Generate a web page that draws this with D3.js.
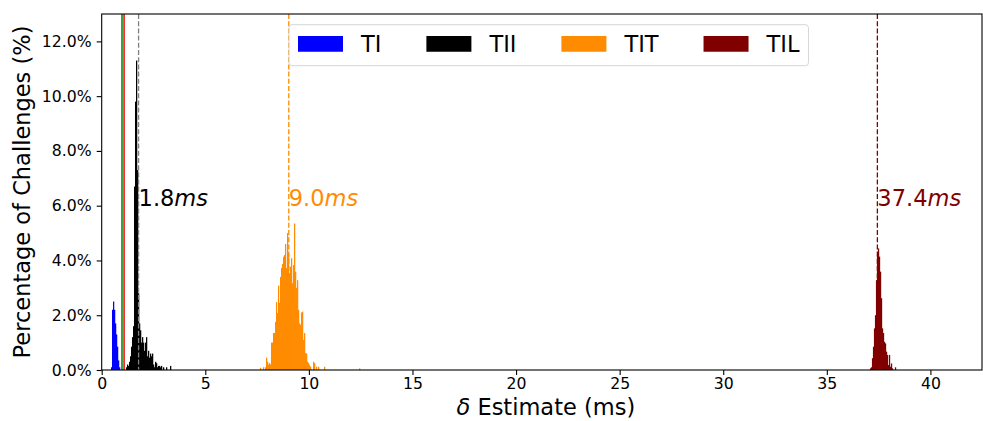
<!DOCTYPE html>
<html>
<head>
<meta charset="utf-8">
<script src="https://cdn.jsdelivr.net/npm/d3@7"></script>
<style>
  body { margin: 0; background: #fff; }
  svg { display: block; font-family: "DejaVu Sans", sans-serif; }
</style>
</head>
<body>
<svg id="chart" width="983" height="421"></svg>
<script>
// histogram bins (ms), values are % of challenges in each bin
const binWidth = 0.0483;
const seriesNames = ["TI", "TII", "TIT", "TIL"];
const seriesColors = ["#0000ff", "#000000", "#ff8c00", "#800000"];
const binStarts = [0.449, 1.173, 7.64, 37.08];

const tiValues = [0.1, 2.2, 2.5, 2.2, 1.7, 1.3, 0.85, 0.35, 0.1];

const tiiValues = [
  0.1, 0.2, 0.15, 0.3, 0.5, 0.85, 1.2, 1.6, 6.7, 9.8,
  11.3, 7.3, 2.8, 1.7, 1.45, 1.0, 1.2, 1.0, 0.7, 1.0,
  1.2, 0.5, 0.7, 0.45, 0.6, 0.5, 0.6, 0.2, 0.1, 0.3,
  0.25, 0.1, 0.15, 0.15, 0.1, 0.15, 0, 0.1, 0, 0,
  0.1, 0, 0, 0, 0.15
];

const titValues = [
  0.08, 0, 0, 0.1, 0, 0.1, 0.45, 0.3, 0.2, 0.25,
  0.2, 1.0, 1.0, 1.35, 1.35, 1.76, 2.48, 2.08, 3.08, 2.45,
  3.4, 3.73, 3.87, 4.14, 4.2, 4.6, 3.72, 5.0, 4.26, 3.53,
  3.77, 4.08, 3.17, 3.83, 5.35, 3.59, 3.0, 3.28, 2.2, 1.7,
  1.65, 2.1, 2.13, 1.1, 1.35, 0.62, 0.6, 0.3, 0.25, 0.18,
  0.12, 0, 0, 0.3, 0.25, 0, 0.12, 0, 0.12, 0,
  0, 0, 0, 0, 0.12, 0, 0, 0, 0, 0,
  0, 0, 0, 0, 0, 0, 0, 0, 0, 0,
  0, 0, 0, 0, 0, 0, 0, 0, 0, 0,
  0, 0, 0, 0, 0, 0, 0, 0, 0, 0.06
];

const tilValues = [
  0.06, 0.1, 0.43, 0.85, 1.52, 2.0, 3.28, 4.2, 4.44, 4.14,
  3.59, 2.62, 1.52, 1.35, 1.03, 0.97, 0.67, 0.55, 0.18, 0.55,
  0.12, 0.24, 0.06, 0, 0, 0.1
];

// mean estimate per series (dashed lines + labels)
const markerValues = [1.78, 9.03, 37.44];
const markerLineColors = ["#808080", "#ff8c00", "#800000"];
const markerTextColors = ["#000000", "#ff8c00", "#800000"];
const markerLabelLevel = 6.0;

// solid reference lines
const refValues = [0.98, 1.08];
const refColors = ["#008000", "#ff0000"];

const xTicks = [0, 5, 10, 15, 20, 25, 30, 35, 40];
const yTicks = [0, 2, 4, 6, 8, 10, 12];
const xMax = 42.49;
const yMax = 13;

const allValues = [tiValues, tiiValues, titValues, tilValues];

const bigFont = 22.5;
const tickFont = 15.7;

const margin = { top: 14, right: 1, bottom: 51, left: 101.7 };
const width = 983 - margin.left - margin.right;
const height = 421 - margin.top - margin.bottom;

const svg = d3.select("#chart");
const g = svg.append("g").attr("transform", `translate(${margin.left},${margin.top})`);

const x = d3.scaleLinear().domain([0, xMax]).range([0, width]);
const y = d3.scaleLinear().domain([0, yMax]).range([height, 0]);

// histograms
allValues.forEach((vals, s) => {
  const bins = vals.map((v, i) => ({ x0: binStarts[s] + i * binWidth, v }))
    .filter(d => d.v > 0);
  g.append("g")
    .selectAll("rect")
    .data(bins)
    .enter().append("rect")
    .attr("x", d => x(d.x0))
    .attr("y", d => y(d.v))
    .attr("width", x(binWidth) - x(0) + 0.25)
    .attr("height", d => y(0) - y(d.v))
    .attr("fill", seriesColors[s]);
});

// reference lines
refValues.forEach((v, i) => {
  g.append("line")
    .attr("x1", x(v)).attr("x2", x(v))
    .attr("y1", 0).attr("y2", height)
    .attr("stroke", refColors[i])
    .attr("stroke-width", 1.5);
});

// estimate lines and labels
markerValues.forEach((v, i) => {
  g.append("line")
    .attr("x1", x(v)).attr("x2", x(v))
    .attr("y1", 0).attr("y2", height)
    .attr("stroke", markerLineColors[i])
    .attr("stroke-width", 1.3)
    .attr("stroke-dasharray", "5,2.2");
  const t = g.append("text")
    .attr("x", x(v))
    .attr("y", y(markerLabelLevel))
    .attr("font-size", bigFont)
    .attr("fill", markerTextColors[i]);
  t.append("tspan").text(v.toFixed(1));
  t.append("tspan").attr("font-style", "italic").text("ms");
});

// axes
const xAxis = g.append("g")
  .attr("transform", `translate(0,${height})`)
  .call(d3.axisBottom(x).tickValues(xTicks).tickSize(5).tickPadding(3).tickFormat(d3.format("d")));
const yAxis = g.append("g")
  .call(d3.axisLeft(y).tickValues(yTicks).tickSize(5).tickPadding(5).tickFormat(d => d.toFixed(1) + "%"));

[xAxis, yAxis].forEach(ax => {
  ax.select(".domain").remove();
  ax.selectAll(".tick line").attr("stroke", "#000").attr("stroke-width", 1.1);
  ax.selectAll(".tick text").attr("fill", "#000").attr("font-size", tickFont)
    .attr("font-family", "DejaVu Sans");
});

// frame
g.append("rect")
  .attr("width", width).attr("height", height)
  .attr("fill", "none").attr("stroke", "#000").attr("stroke-width", 1.1);

// axis labels
svg.append("text")
  .attr("transform", `translate(22,${margin.top + height / 2}) rotate(-90)`)
  .attr("text-anchor", "middle")
  .attr("dominant-baseline", "central")
  .attr("font-size", bigFont)
  .text("Percentage of Challenges (%)");

const xl = svg.append("text")
  .attr("x", margin.left + width / 2 + 4)
  .attr("y", 415)
  .attr("text-anchor", "middle")
  .attr("font-size", bigFont);
xl.append("tspan").attr("font-style", "italic").text("δ");
xl.append("tspan").text(" Estimate (ms)");

// legend (matplotlib-like spacing in font units)
const legend = svg.append("g").attr("transform", "translate(289,24.7)");
const legendBox = legend.append("rect")
  .attr("height", 41).attr("rx", 3)
  .attr("fill", "#fff").attr("fill-opacity", 0.8)
  .attr("stroke", "#d6d6d6").attr("stroke-width", 1);

const pad = 0.4 * bigFont, handleW = 2 * bigFont, textPad = 0.8 * bigFont, colSpace = 2 * bigFont;
let cx = pad;
seriesNames.forEach((name, i) => {
  legend.append("rect")
    .attr("x", cx).attr("y", 11.3)
    .attr("width", handleW).attr("height", 0.7 * bigFont)
    .attr("fill", seriesColors[i]);
  const t = legend.append("text")
    .attr("x", cx + handleW + textPad).attr("y", 27.3)
    .attr("font-size", bigFont)
    .text(name);
  cx += handleW + textPad + t.node().getComputedTextLength();
  if (i < seriesNames.length - 1) cx += colSpace;
});
legendBox.attr("width", cx + pad);
</script>
</body>
</html>
